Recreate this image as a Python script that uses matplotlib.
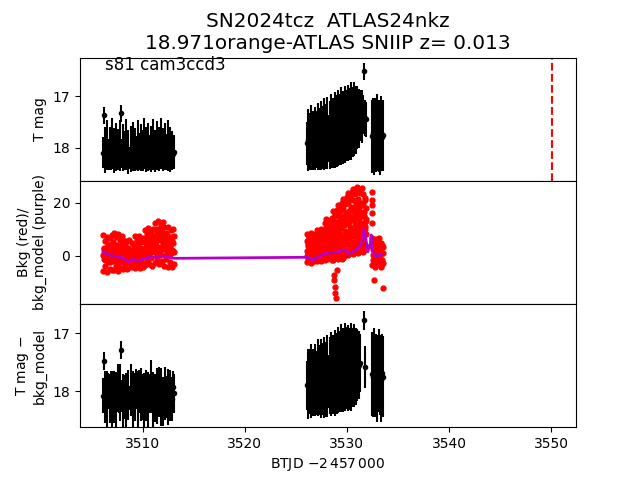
import numpy as np
import matplotlib

matplotlib.use("Agg")
import matplotlib.pyplot as plt  # noqa: E402

T0 = 3500.0

# sample times (BTJD - 2457000 - T0), three chunks of the sector
t_s1 = [6.1, 6.2, 6.3, 6.4, 6.5, 6.6, 6.7, 6.8, 6.9, 7.0,
        7.1, 7.2, 7.3, 7.4, 7.5, 7.6, 7.7, 7.8, 7.9, 8.0,
        8.1, 8.2, 8.3, 8.4, 8.5, 8.6, 8.7, 8.8, 8.9, 9.0,
        9.1, 9.2, 9.3, 9.4, 9.5, 9.6, 9.7, 9.8, 9.9, 10.0,
        10.1, 10.2, 10.3, 10.4, 10.5, 10.6, 10.7, 10.8, 10.9, 11.0,
        11.1, 11.2, 11.3, 11.4, 11.5, 11.6, 11.7, 11.8, 11.9, 12.0,
        12.1, 12.2, 12.3, 12.4, 12.5, 12.6, 12.7, 12.8, 12.9, 13.0,
        13.1]
t_s2a = [26.1, 26.2, 26.3, 26.4, 26.5, 26.6, 26.7, 26.8, 26.9, 27.0,
         27.1, 27.2, 27.3, 27.4, 27.5, 27.6, 27.7, 27.8, 27.9, 28.0,
         28.1, 28.2, 28.3, 28.4, 28.5, 28.6, 28.7, 28.8, 28.9, 29.0,
         29.1, 29.2, 29.3, 29.4, 29.5, 29.6, 29.7, 29.8, 29.9, 30.0,
         30.1, 30.2, 30.3, 30.4, 30.5, 30.6, 30.7, 30.8, 30.9, 31.0,
         31.1, 31.2, 31.3, 31.4, 31.5, 31.6, 31.7, 31.8, 31.9]
t_s2b = [32.5, 32.6, 32.7, 32.8, 32.9, 33.0, 33.1, 33.2, 33.3, 33.4, 33.5]

# T mag
mag_s1 = [18.10, 17.37, 18.05, 18.15, 17.95, 18.12, 18.20, 18.02, 18.08, 17.92,
          18.14, 18.06, 18.18, 17.98, 18.10, 18.04, 18.16, 17.96, 17.33, 18.12,
          18.00, 18.18, 18.06, 17.94, 18.14, 18.08, 18.20, 18.02, 18.12, 17.98,
          18.16, 18.04, 18.10, 18.22, 17.96, 18.08, 18.14, 18.00, 18.18, 18.06,
          17.92, 18.12, 18.04, 18.16, 17.98, 18.10, 18.20, 18.02, 18.08, 17.94,
          18.14, 18.06, 18.18, 17.96, 18.10, 18.02, 18.16, 17.92, 18.12, 18.04,
          18.20, 17.98, 18.08, 18.14, 17.96, 18.10, 18.04, 18.18, 18.06, 18.12,
          18.08]
mag_s2a = [17.92, 17.85, 17.95, 17.88, 17.80, 17.93, 17.86, 17.90, 17.82, 17.91,
           17.84, 17.78, 17.89, 17.83, 17.76, 17.87, 17.80, 17.74, 17.85, 17.78,
           17.72, 17.82, 17.75, 17.68, 17.79, 17.71, 17.76, 17.66, 17.74, 17.68,
           17.62, 17.72, 17.65, 17.58, 17.69, 17.61, 17.66, 17.55, 17.63, 17.57,
           17.52, 17.61, 17.54, 17.48, 17.58, 17.50, 17.44, 17.53, 17.46, 17.41,
           17.50, 17.43, 17.38, 17.47, 17.40, 17.36, 16.51, 17.42, 17.45]
mag_s2b = [17.78, 17.72, 17.80, 17.74, 17.82, 17.70, 17.77, 17.84, 17.73, 17.79, 17.76]

err_s1 = [0.30, 0.16, 0.45, 0.22, 0.48, 0.28, 0.24, 0.42, 0.35, 0.50,
          0.26, 0.44, 0.22, 0.47, 0.30, 0.40, 0.25, 0.49, 0.16, 0.28,
          0.46, 0.22, 0.38, 0.50, 0.27, 0.43, 0.21, 0.45, 0.30, 0.48,
          0.24, 0.42, 0.33, 0.22, 0.50, 0.36, 0.26, 0.46, 0.23, 0.40,
          0.50, 0.28, 0.44, 0.23, 0.47, 0.34, 0.22, 0.45, 0.30, 0.49,
          0.25, 0.41, 0.22, 0.48, 0.31, 0.43, 0.24, 0.50, 0.28, 0.42,
          0.21, 0.46, 0.35, 0.26, 0.49, 0.30, 0.44, 0.23, 0.38, 0.27,
          0.33]
err_s2a = [0.42, 0.60, 0.38, 0.56, 0.64, 0.40, 0.58, 0.45, 0.62, 0.36,
           0.55, 0.66, 0.40, 0.60, 0.68, 0.44, 0.62, 0.70, 0.42, 0.64,
           0.70, 0.46, 0.66, 0.72, 0.48, 0.68, 0.52, 0.74, 0.50, 0.70,
           0.74, 0.50, 0.70, 0.76, 0.52, 0.72, 0.55, 0.76, 0.58, 0.70,
           0.74, 0.55, 0.70, 0.76, 0.52, 0.68, 0.72, 0.50, 0.66, 0.62,
           0.46, 0.58, 0.50, 0.40, 0.52, 0.38, 0.16, 0.36, 0.34]
err_s2b = [0.72, 0.68, 0.74, 0.70, 0.66, 0.75, 0.71, 0.69, 0.73, 0.67, 0.70]

# T mag - bkg_model
sub_s1 = [18.08, 17.48, 18.10, 18.02, 18.14, 17.96, 18.06, 18.12, 18.00, 18.16,
          18.04, 18.10, 17.98, 18.14, 18.06, 17.94, 18.12, 18.02, 17.29, 18.08,
          18.16, 18.00, 18.10, 18.18, 17.96, 18.06, 18.12, 17.98, 18.04, 18.14,
          18.02, 18.10, 17.94, 18.08, 18.16, 18.00, 18.12, 18.06, 17.96, 18.10,
          18.18, 18.02, 18.08, 17.98, 18.14, 18.04, 18.10, 17.92, 18.06, 18.16,
          18.00, 18.12, 17.96, 18.08, 18.14, 18.02, 17.94, 18.10, 18.06, 18.18,
          17.98, 18.04, 18.12, 18.00, 18.10, 17.96, 18.08, 18.02, 18.14, 17.92,
          18.04]
sub_s2a = [17.90, 17.88, 17.93, 17.84, 17.82, 17.95, 17.85, 17.92, 17.80, 17.89,
           17.86, 17.77, 17.90, 17.81, 17.78, 17.88, 17.79, 17.76, 17.84, 17.80,
           17.74, 17.83, 17.73, 17.70, 17.80, 17.72, 17.78, 17.68, 17.75, 17.70,
           17.64, 17.73, 17.66, 17.60, 17.70, 17.63, 17.68, 17.58, 17.65, 17.60,
           17.60, 17.68, 17.62, 17.58, 17.66, 17.60, 17.56, 17.62, 17.58, 17.55,
           17.58, 17.55, 17.52, np.nan, np.nan, np.nan, 16.78, 17.59, np.nan]
sub_s2b = [17.70, 17.76, 17.66, 17.74, 17.68, 17.78, 17.64, 17.72, 17.80, 17.69, 17.75]

bkg_s1_hi = [7.8, 3.0, 5.6, 1.8, 7.2, 4.4, 2.5, 6.6, 3.8, 8.0,
             5.2, 8.6, 2.4, 7.0, 4.0, 8.4, 1.9, 6.1, 3.4, 7.6,
             5.9, 1.5, 4.4, 0.8, 5.6, 3.0, 6.0, 2.0, 4.8, 1.2,
             3.6, 7.4, 1.8, 6.0, 4.5, 7.6, 2.6, 5.2, 1.4, 6.9,
             5.5, 9.8, 4.0, 8.2, 10.6, 6.0, 3.8, 9.0, 5.0, 10.2,
             7.0, 12.5, 5.6, 10.0, 13.2, 8.4, 6.0, 11.8, 9.2, 12.8,
             10.8, 5.0, 8.6, 4.0, 11.0, 6.8, 3.8, 9.6, 5.6, 10.2,
             7.5]
bkg_s1_mid = [0.2, 2.6, -1.4, 1.4, 3.4, -0.8, 2.0, -2.2, 0.8, 3.0,
              -0.4, 2.8, 1.0, -1.8, 3.6, 0.4, 2.2, -1.0, 1.6, 4.0,
              1.8, -2.4, 0.6, 2.8, -1.4, 1.2, -2.8, 0.0, 2.4, -1.8,
              2.2, -1.0, 3.2, 0.0, -2.4, 1.6, 3.0, -1.6, 0.6, 2.6,
              0.8, 5.2, 2.0, 6.4, -0.4, 4.4, 7.0, 1.6, 5.8, 3.0,
              2.2, 7.6, 3.8, 9.0, 1.0, 6.4, 10.2, 2.8, 7.2, 5.0,
              6.2, 0.2, 4.6, 8.0, 1.8, 5.4, 0.8, 7.0, 2.4, 4.8,
              1.5]
bkg_s1_lo = [-5.8, -1.0, -3.6, 0.6, -6.0, -2.4, 0.2, -4.8, -1.6, -5.2,
             -2.0, -5.4, 0.9, -3.8, -0.6, -5.6, -2.8, 1.2, -4.4, -1.2,
             -4.9, -1.5, -3.2, 0.3, -5.0, -2.2, -0.4, -4.1, -1.0, -3.6,
             -0.5, -4.4, -2.0, 0.8, -3.6, -1.2, -4.6, 0.2, -2.8, -4.0,
             2.8, -3.4, 0.5, -1.8, 3.2, -3.0, 1.4, -0.6, -3.6, 2.0,
             4.6, -2.8, 1.2, -1.0, 3.4, -3.0, 0.4, 2.4, -2.0, 4.0,
             -3.8, 2.6, -1.2, 0.6, -4.0, 3.0, -2.4, 1.0, -4.2, 2.0,
             -3.0]
bkg_s2a_hi = [8.3, 5.5, 7.4, 4.9, 8.6, 6.2, 5.1, 7.9, 6.6, 8.4,
              9.6, 6.4, 8.5, 7.0, 10.0, 6.2, 8.9, 7.4, 12.5, 13.8,
              13.6, 9.2, 12.0, 10.1, 14.2, 16.8, 11.4, 14.9, 12.2, 17.2,
              19.2, 13.0, 17.1, 14.6, 19.8, 21.6, 15.0, 19.4, 16.2, 22.2,
              23.7, 16.8, 21.5, 18.4, 24.2, 25.2, 17.8, 23.4, 19.6, 25.8,
              25.3, 18.0, 23.6, 20.0, 25.6, 23.2, 16.4, 21.0, 18.2]
bkg_s2a_hm = [5.8, 3.8, 6.8, 4.4, 5.2, 7.2, 3.6, 6.0, 4.9, 7.0,
              7.6, 4.2, 8.8, 5.2, 6.8, 9.2, 4.6, 7.8, 9.4, 11.0,
              10.8, 6.8, 12.6, 8.0, 11.4, 13.2, 8.6, 15.6, 10.4, 12.6,
              15.6, 10.0, 18.0, 11.6, 14.0, 17.6, 11.6, 20.4, 13.0, 16.0,
              19.8, 12.8, 22.6, 14.6, 17.6, 21.0, 13.6, 24.2, 15.6, 18.8,
              21.4, 14.0, 24.4, 16.0, 19.0, 19.4, 12.4, 22.0, 14.0]
bkg_s2a_mid = [2.0, 4.4, 1.4, 3.6, 2.8, 4.6, 1.6, 3.2, 4.2, 2.4,
               2.6, 5.6, 3.4, 6.0, 2.2, 4.8, 3.0, 5.4, 4.0, 6.4,
               4.2, 8.4, 5.6, 7.4, 4.6, 5.2, 10.2, 7.0, 9.0, 6.0,
               6.4, 12.0, 8.2, 10.6, 7.0, 7.2, 13.6, 9.5, 12.4, 8.0,
               8.6, 15.2, 11.0, 13.8, 9.6, 9.4, 16.4, 12.0, 14.8, 10.5,
               9.8, 16.6, 12.4, 15.0, 10.8, 9.2, 15.2, 11.4, 13.0]
bkg_s2a_lm = [0.0, -1.6, 2.2, -0.8, 1.6, -2.0, 0.4, 2.6, -1.2, 1.0,
              0.4, -1.2, 3.0, -0.2, 1.2, -1.6, 2.4, -0.4, 0.8, 3.2,
              1.6, -0.6, 2.4, 5.4, 0.8, 2.6, -0.8, 5.6, 1.4, 3.2,
              3.0, 0.2, 6.6, 2.2, 4.0, 3.8, 0.0, 7.6, 1.6, 4.6,
              4.6, 1.2, 9.0, 2.6, 5.4, 5.2, 1.6, 10.0, 3.0, 6.2,
              5.8, 2.2, 10.4, 3.4, 6.6, 5.0, 2.4, 10.0, 3.2]
bkg_s2a_lo = [-2.3, 0.8, -1.2, 1.1, -2.5, -0.2, 0.6, -1.8, 1.0, -0.6,
              -1.8, 1.6, -0.4, 1.9, -2.0, 0.5, -1.2, 1.3, -1.6, 0.2,
              -1.2, 3.0, 0.4, 3.5, -1.5, -1.4, 3.8, 0.8, 4.5, -0.6,
              -1.0, 4.8, 1.6, 5.5, -1.2, -0.8, 5.6, 2.4, 6.5, 0.6,
              0.2, 6.8, 3.2, 7.6, 1.8, 0.6, 7.5, 3.8, 8.6, 2.2,
              1.2, 8.0, 4.2, 9.0, 2.6, 1.6, 7.8, 4.0, 8.4]
bkg_s2b_hi = [6.8, 2.5, 5.4, 1.6, 6.4, 3.0, 6.9, 2.0, 5.0, 4.0, 1.0]
bkg_s2b_mid = [3.8, -1.5, 0.2, 4.6, -2.4, 5.6, -0.4, 4.4, 1.2, -3.0, 3.2]
bkg_s2b_lo = [-3.5, 0.5, -2.0, -4.2, 1.0, -1.0, -3.0, 0.0, -4.0, -1.6, -2.8]
t_bkg_odd = [28.70, 28.75, 28.80, 28.85, 28.90, 29.00,
             32.46, 32.47, 32.48, 32.49, 32.50, 32.70, 33.50]
bkg_odd = [-7.0, -9.0, -11.7, -14.0, -15.8, -5.3,
           24.0, 21.0, 19.0, 16.0, 12.4, -9.0, -12.0]

# background model (purple)
t_model = [6.1, 6.5, 7.3, 7.9, 8.6, 9.1, 9.6, 10.2, 10.9, 11.4, 11.9, 12.5, 13.1,
           26.2, 26.7, 27.2, 27.9, 28.9, 29.7, 30.2, 30.6, 31.1, 31.5, 31.7, 31.9,
           32.06, 32.3, 32.4, 32.5, 32.8, 33.4]
bkg_model = [1.6, 0.8, -0.3, -0.5, -2.1, -1.3, -1.8, -0.9, -0.3, -0.5, 0.0, -0.5, -0.9,
             -0.5, -1.5, -0.3, 1.0, 1.3, 2.3, 1.0, 1.6, 2.9, 5.4, 10.4, 5.4,
             1.6, 4.8, 7.9, 1.6, 0.0, 0.4]

t_peak = 3550.1

t1 = T0 + np.array(t_s1)
t2a = T0 + np.array(t_s2a)
t2b = T0 + np.array(t_s2b)
t_all = np.concatenate([t1, t2a, t2b])
mag = np.concatenate([mag_s1, mag_s2a, mag_s2b])
err = np.concatenate([err_s1, err_s2a, err_s2b])
sub = np.concatenate([sub_s1, sub_s2a, sub_s2b])

fig, (ax1, ax2, ax3) = plt.subplots(3, 1, figsize=(6.4, 4.8), sharex=True)
fig.subplots_adjust(hspace=0)

ax1.errorbar(t_all, mag, yerr=err, fmt="k.")
ax1.axvline(t_peak, color="r", ls="--")
ax1.set_ylim(18.65, 16.24)
ax1.set_ylabel("T mag")
ax1.set_title("SN2024tcz  ATLAS24nkz\n18.971orange-ATLAS SNIIP z= 0.013", fontsize=14.4)
ax1.text(0.05, 0.9, "s81 cam3ccd3", transform=ax1.transAxes, fontsize=12)

red = dict(ls="none", marker=".", color="r", ms=7)
for tt, vv in [(t1, bkg_s1_hi), (t1, bkg_s1_mid), (t1, bkg_s1_lo),
               (t2a, bkg_s2a_hi), (t2a, bkg_s2a_hm), (t2a, bkg_s2a_mid),
               (t2a, bkg_s2a_lm), (t2a, bkg_s2a_lo),
               (t2b, bkg_s2b_hi), (t2b, bkg_s2b_mid), (t2b, bkg_s2b_lo),
               (T0 + np.array(t_bkg_odd), bkg_odd)]:
    ax2.plot(tt, vv, **red)
ax2.plot(T0 + np.array(t_model), bkg_model, color="#b400c8", lw=2)
ax2.set_ylim(-18.1, 28.3)
ax2.set_yticks([0, 20])
ax2.set_ylabel("Bkg (red)/\nbkg_model (purple)")

ax3.errorbar(t_all, sub, yerr=err, fmt="k.")
ax3.set_ylim(18.62, 16.5)
ax3.set_ylabel("T mag $-$\nbkg_model")
ax3.set_xlim(3503.85, 3552.45)
ax3.set_xlabel(r"BTJD $-2\,457\,000$")

fig.savefig("out.png", dpi=100)
